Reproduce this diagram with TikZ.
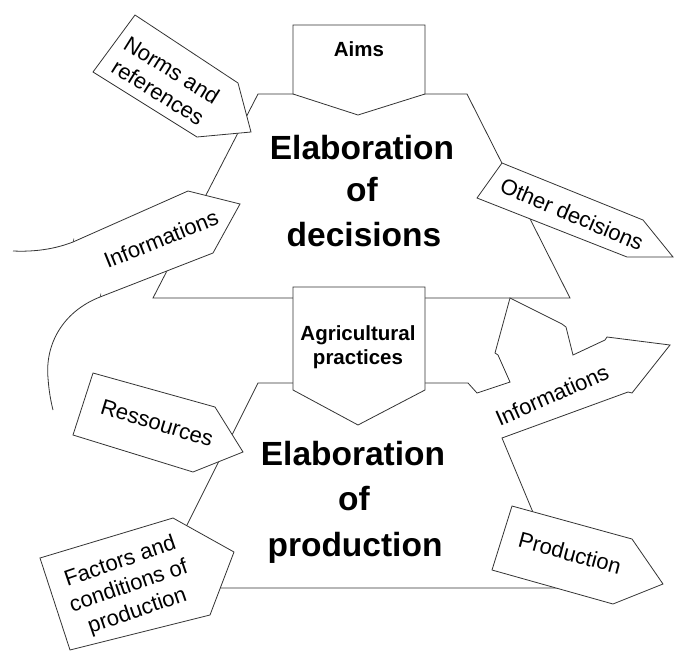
\documentclass[tikz,border=0pt]{standalone}
\usepackage{fontspec}
\setmainfont{Liberation Sans}
\begin{document}
\begin{tikzpicture}[x=1pt,y=-1pt,line width=0.8pt,
  outline/.style={draw=black!80,fill=white,line join=miter},
  edgeonly/.style={draw=black!80},
  lbl/.style={font=\fontsize{22}{26}\selectfont,align=center,inner sep=0pt},
  boxlbl/.style={font=\fontsize{20.5}{23.5}\selectfont\bfseries,align=center,inner sep=0pt},
  bigtxt/.style={font=\fontsize{33.5}{40}\selectfont\bfseries,anchor=base,inner sep=0pt}]
\useasboundingbox (0,0) rectangle (675,651);

% upper shape: elaboration of decisions
\path[outline] (258,94) -- (467,94) -- (570,298) -- (153,298) -- cycle;

% lower shape: elaboration of production, with the informations arrows
\path[outline] (258,383) -- (468,383) -- (477,393) -- (510,382) -- (498,355)
  -- (495,353) -- (510,298) -- (562,324) -- (566,327) -- (573,355)
  -- (605,340) -- (607,337) -- (670,345) -- (632,393) -- (628,392)
  -- (502,438) -- (532,510) -- (565,588) -- (155.5,588) -- cycle;

% aims box
\path[outline] (293,25) -- (425,25) -- (425,94) -- (358,115) -- (293,94) -- cycle;
% agricultural practices box
\path[outline] (293,287) -- (425,287) -- (425,390) -- (358,425) -- (293,390) -- cycle;

% norms and references
\path[outline] (135,15) -- (238,83) -- (251,132) -- (197,137) -- (93,72) -- cycle;
% other decisions
\path[outline] (502,163) -- (643,220) -- (673,257) -- (627,257) -- (477,198) -- cycle;
% ressources
\path[outline] (93,373) -- (215,407) -- (243,452) -- (193,472) -- (73,435) -- cycle;
% factors and conditions of production
\path[outline] (173,518) -- (234,552) -- (210,615) -- (70,650) -- (40,558) -- cycle;
% production
\path[outline] (512,506) -- (632,539) -- (663,584) -- (613,604) -- (492,570) -- cycle;

% informations (left, curved)
\path[fill=white] (73,242) -- (188,191) -- (240,204) -- (213,253) -- (100,297) -- cycle;
\path[edgeonly] (13,251) .. controls (35,252) and (55,249) .. (73,242)
  -- (188,191) -- (240,204) -- (213,253) -- (100,297)
  .. controls (62,312) and (45,345) .. (48,378)
  .. controls (49,392) and (51,402) .. (53,410);
\path[edgeonly,line width=0.5pt] (73,242) -- (74,238.5);
\path[edgeonly,line width=0.5pt] (100,297) -- (101,293.5);

% texts
\node[boxlbl] (aims) at (359,49) {Aims};
\node[boxlbl] (agri) at (358,347) {Agricultural\\practices};

\node[bigtxt] (d1) at (362,159) {Elaboration};
\node[bigtxt] (d2) at (362,201) {of};
\node[bigtxt] (d3) at (364,246) {decisions};

\node[bigtxt] (p1) at (353,465) {Elaboration};
\node[bigtxt] (p2) at (354,510) {of};
\node[bigtxt] (p3) at (355,556) {production};

\node[lbl,rotate=-32] (norms) at (165,81) {Norms and\\references};
\node[lbl,rotate=22] (infoL) at (161,239) {Informations};
\node[lbl,rotate=-23] (other) at (572,214) {Other decisions};
\node[lbl,rotate=-17] (res) at (157,423) {Ressources};
\node[lbl,rotate=19] (fact) at (129,587) {Factors and\\conditions of\\production};
\node[lbl,rotate=-15] (prod) at (570,553) {Production};
\node[lbl,rotate=24] (infoR) at (552,395) {Informations};
\end{tikzpicture}
\end{document}
